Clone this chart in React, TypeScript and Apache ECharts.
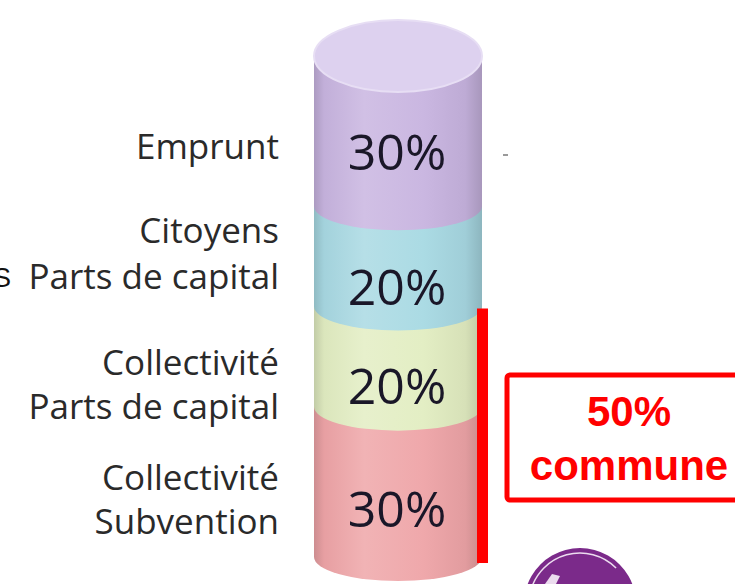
import { useEffect, useRef } from "react";
import * as echarts from "echarts";

// ---- data ----
const categories = ["Financement"];
const segmentNames = [
  "Collectivité\nSubvention",
  "Collectivité\nParts de capital",
  "Citoyens\nParts de capital",
  "Emprunt",
];
const segmentValues = [30, 20, 20, 30];
const segmentLabels = ["30%", "20%", "20%", "30%"];
const communeRange = [0, 50];
const communeLabel = "50%\ncommune";

// ---- style ----
const segmentColors = ["#eea4a7", "#e2edc2", "#a8d9e3", "#c8b4e0"];
const capColor = "#ddd1ef";
const nameLayout = [
  { y: 498, lh: 44 },
  { y: 383, lh: 44 },
  { y: 252, lh: 46 },
  { y: 145, lh: 44 },
];
const labelDy = [26, 28, 30, 20];

function shade(hex: string, f: number) {
  const n = parseInt(hex.slice(1), 16);
  let r = (n >> 16) & 255, g = (n >> 8) & 255, b = n & 255;
  const adj = (c: number) =>
    Math.max(0, Math.min(255, Math.round(f >= 0 ? c + (255 - c) * f : c * (1 + f))));
  r = adj(r); g = adj(g); b = adj(b);
  return "#" + ((1 << 24) | (r << 16) | (g << 8) | b).toString(16).slice(1);
}

function bodyGradient(c: string) {
  return new echarts.graphic.LinearGradient(0, 0, 1, 0, [
    { offset: 0, color: shade(c, -0.14) },
    { offset: 0.06, color: shade(c, -0.03) },
    { offset: 0.3, color: shade(c, 0.16) },
    { offset: 0.65, color: shade(c, 0.04) },
    { offset: 0.9, color: shade(c, -0.05) },
    { offset: 1, color: shade(c, -0.16) },
  ]);
}

export default function App() {
  const ref = useRef<HTMLDivElement>(null);
  useEffect(() => {
    const chart = echarts.init(ref.current!, null, { renderer: "svg" });

    let acc = 0;
    const segData = segmentValues.map((v, i) => {
      const start = acc;
      acc += v;
      return { value: [0, start, acc], name: segmentNames[i] };
    });
    const total = acc;

    const RX = 84;
    const RY = 24;
    const CAP_RY = 36;

    const graphics: any[] = [];
    segmentNames.forEach((name, i) => {
      graphics.push({
        type: "text",
        x: 279,
        y: nameLayout[i].y,
        style: {
          text: name,
          fill: "#2a2a2a",
          fontFamily: "Open Sans",
          fontSize: 35,
          lineHeight: nameLayout[i].lh,
          align: "right",
          verticalAlign: "middle",
        },
      });
    });
    // commune box
    graphics.push({
      type: "rect",
      shape: { x: 507, y: 375, width: 240, height: 125, r: 3 },
      style: { fill: "none", stroke: "#ff0000", lineWidth: 5 },
    });
    graphics.push({
      type: "text",
      x: 629,
      y: 438,
      style: {
        text: communeLabel,
        fill: "#ff0000",
        fontFamily: "Liberation Sans",
        fontWeight: "bold",
        fontSize: 42,
        lineHeight: 54,
        align: "center",
        verticalAlign: "middle",
      },
    });
    // partial "S" at left edge
    graphics.push({
      type: "text",
      x: 11,
      y: 278,
      style: {
        text: "S",
        fill: "#111",
        fontFamily: "Liberation Sans",
        fontSize: 27,
        align: "right",
        verticalAlign: "middle",
      },
    });
    // small dash
    graphics.push({
      type: "rect",
      shape: { x: 503, y: 154, width: 5, height: 2 },
      style: { fill: "#9a9a9a" },
    });
    // globe logo (partial)
    graphics.push({
      type: "circle",
      shape: { cx: 580, cy: 604, r: 56 },
      style: { fill: "#7b2a8a" },
    });
    graphics.push({
      type: "arc",
      shape: { cx: 580, cy: 604, r: 51, startAngle: Math.PI * 1.08, endAngle: Math.PI * 1.75 },
      style: { stroke: "#ecdcef", lineWidth: 1.5, fill: "none" },
    });
    graphics.push({
      type: "polygon",
      shape: { points: [[545, 584], [552, 574], [560, 576], [556, 584]] },
      style: { fill: "#ecdcef" },
    });

    chart.setOption({
      animation: false,
      backgroundColor: "#ffffff",
      grid: { left: 338, width: 120, top: 56, bottom: 27 },
      xAxis: { type: "category", data: categories, show: false },
      yAxis: { type: "value", min: 0, max: total, show: false },
      graphic: graphics,
      series: [
        {
          type: "custom",
          data: segData,
          clip: false,
          renderItem: (params: any, api: any) => {
            const i = params.dataIndex;
            const [cx, yB] = api.coord([api.value(0), api.value(1)]);
            const [, yT] = api.coord([api.value(0), api.value(2)]);
            const L = cx - RX;
            const R = cx + RX;
            const body = `M${L},${yT} L${L},${yB} A${RX},${RY} 0 0 0 ${R},${yB} L${R},${yT} Z`;
            const children: any[] = [
              {
                type: "path",
                shape: { pathData: body },
                style: { fill: bodyGradient(segmentColors[i]) },
              },
            ];
            if (i === segmentValues.length - 1) {
              const cap = `M${L},${yT} A${RX},${CAP_RY} 0 1 0 ${R},${yT} A${RX},${CAP_RY} 0 1 0 ${L},${yT} Z`;
              children.push({
                type: "path",
                shape: { pathData: cap },
                style: { fill: capColor, stroke: "#e7def4", lineWidth: 2 },
              });
            }
            children.push({
              type: "text",
              x: cx - 1,
              y: (yT + yB) / 2 + labelDy[i],
              style: {
                text: segmentLabels[i],
                fill: "#1a1728",
                fontFamily: "Open Sans",
                fontSize: 50,
                align: "center",
                verticalAlign: "middle",
              },
            });
            return { type: "group", children };
          },
        },
        {
          type: "custom",
          data: [{ value: [0, communeRange[0], communeRange[1]] }],
          clip: false,
          z: 3,
          renderItem: (params: any, api: any) => {
            const [cx, yB] = api.coord([api.value(0), api.value(1)]);
            const [, yT] = api.coord([api.value(0), api.value(2)]);
            return {
              type: "rect",
              shape: { x: cx + 79, y: yT + 2, width: 11, height: yB - yT + 4 },
              style: { fill: "#ff0000" },
            };
          },
        },
      ],
    });
    return () => chart.dispose();
  }, []);
  return (
    <div
      ref={ref}
      style={{ position: "fixed", left: 0, top: 0, width: 735, height: 584, background: "#fff" }}
    />
  );
}
